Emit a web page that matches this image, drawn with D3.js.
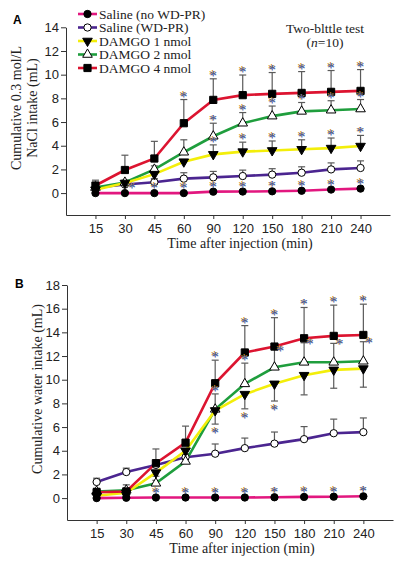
<!DOCTYPE html>
<html>
<head>
<meta charset="utf-8">
<script src="https://cdn.jsdelivr.net/npm/d3@7"></script>
<style>
  body { margin: 0; background: #fff; }
  svg { display: block; font-family: "Liberation Serif", "DejaVu Serif", serif; }
  .tick text { font-size: 13px; fill: #222; }
  .tick line, .domain { stroke: #333; }
</style>
</head>
<body>
<div id="chart"></div>
<script>
// time points (min)
var times = ["15", "30", "45", "60", "90", "120", "150", "180", "210", "240"];
var legendNames = ["Saline (no WD-PR)", "Saline (WD-PR)", "DAMGO 1 nmol", "DAMGO 2 nmol", "DAMGO 4 nmol"];

// panel A: cumulative 0.3 mol/L NaCl intake (mL)
var noWdA   = [0, 0, 0, 0, 0.12, 0.13, 0.15, 0.2, 0.3, 0.38];
var wdA     = [0.45, 0.72, 0.92, 1.22, 1.33, 1.44, 1.56, 1.72, 2.0, 2.12];
var wdErrA  = [0.2, 0.25, 0.3, 0.5, 0.5, 0.5, 0.5, 0.5, 0.55, 0.6];
var dam1A   = [0.28, 0.85, 1.6, 2.65, 3.27, 3.5, 3.6, 3.7, 3.8, 3.97];
var dam1ErrA = [0.15, 0.2, 0.35, 0, 0.8, 0.8, 0.8, 0.8, 0.85, 0.9];
var dam2A   = [0.47, 0.9, 2.0, 3.45, 4.8, 5.9, 6.5, 6.9, 7.0, 7.1];
var dam2ErrA = [0.1, 0.2, 0.3, 1.05, 1.1, 0.9, 0.85, 0.75, 0.8, 0.8];
var dam4A   = [0.64, 1.95, 2.92, 5.9, 7.87, 8.27, 8.38, 8.46, 8.55, 8.63];
var dam4ErrA = [0.45, 1.25, 1.45, 2.0, 1.78, 1.7, 1.8, 1.8, 1.8, 1.8];

// panel B: cumulative water intake (mL)
var noWdB   = [0, 0.03, 0.05, 0.05, 0.05, 0.05, 0.07, 0.1, 0.12, 0.15];
var wdB     = [1.36, 2.2, 2.8, 3.45, 3.75, 4.22, 4.6, 4.98, 5.48, 5.57];
var wdErrB  = [0.32, 0.33, 0.3, 0.3, 0.82, 0.85, 0.98, 1.06, 1.19, 1.2];
var dam1B   = [0.2, 0.45, 2.15, 4.0, 7.4, 8.78, 9.65, 10.38, 10.83, 10.94];
var dam1ErrB = [0.1, 0.15, 0.3, 0.3, 1.15, 1.24, 1.45, 1.66, 1.55, 1.57];
var dam2B   = [0.56, 0.66, 1.25, 3.1, 7.5, 9.65, 11.05, 11.47, 11.47, 11.56];
var dam2ErrB = [0.2, 0.2, 0.25, 0.3, 1.3, 1.75, 1.5, 1.65, 1.6, 1.65];
var dam4B   = [0.5, 0.56, 2.95, 4.68, 9.7, 12.3, 12.8, 13.5, 13.7, 13.78];
var dam4ErrB = [0.34, 0.56, 1.2, 1.4, 1.95, 2.27, 2.44, 2.6, 2.6, 2.6];

// indices of time points marked with *
var starsA = { noWd: [1, 2, 3, 4, 5, 6, 7, 8, 9], dam1: [4, 5, 6, 7, 8, 9], dam2: [4, 5, 6, 7, 8, 9], dam4: [3, 4, 5, 6, 7, 8, 9] };
var starsB = { noWd: [2, 3, 4, 5, 6, 7, 8, 9], dam1: [4, 5, 6], dam2: [4, 5, 6, 7, 8, 9], dam4: [4, 5, 6, 7, 8, 9] };

var svgWidth = 399, svgHeight = 563;

var svg = d3.select("#chart").append("svg")
  .attr("width", svgWidth)
  .attr("height", svgHeight);

var colors = { noWd: "#e2177f", wd: "#4b2590", dam1: "#f3ee0a", dam2: "#1f9e3d", dam4: "#dc1430" };

function marker(type) {
  if (type == "circle") return d3.symbol(d3.symbolCircle, 42)();
  if (type == "square") return d3.symbol(d3.symbolSquare, 52)();
  return d3.symbol(d3.symbolTriangle, 40)();
}
var markerStyle = {
  noWd: { sym: "circle", fill: "#000", rot: 0 },
  wd:   { sym: "circle", fill: "#fff", rot: 0 },
  dam1: { sym: "tri", fill: "#000", rot: 180 },
  dam2: { sym: "tri", fill: "#fff", rot: 0 },
  dam4: { sym: "square", fill: "#000", rot: 0 }
};

function star(g, x, y) {
  // asterisk printed slightly off register: orange under blue
  g.append("text").attr("x", x - 0.7).attr("y", y - 0.7).attr("text-anchor", "middle")
    .attr("font-size", 15).attr("fill", "#d0911c").text("*");
  g.append("text").attr("x", x).attr("y", y).attr("text-anchor", "middle")
    .attr("font-size", 15).attr("fill", "#2f52a6").text("*");
}

function drawPanel(p) {
  var g = svg.append("g");

  var x = d3.scalePoint().domain(times).range(p.xRange).padding(1);
  var y = d3.scaleLinear().domain([-1.85, p.yMax]).range(p.yRange);

  var yTicks = d3.range(0, p.yMax + 1, 2);

  g.append("g")
    .attr("transform", `translate(0, ${p.yRange[0]})`)
    .call(d3.axisBottom(x).tickSize(4).tickPadding(5).tickSizeOuter(0));

  g.append("g")
    .attr("transform", `translate(${p.xRange[0]}, 0)`)
    .call(d3.axisLeft(y).tickValues(yTicks).tickSize(5).tickPadding(2).tickSizeOuter(0));

  var line = d3.line()
    .x((d, i) => x(times[i]))
    .y(d => y(d));

  // error bars
  p.series.forEach(function(s) {
    if (!s.err) return;
    s.vals.forEach(function(v, i) {
      if (!s.err[i]) return;
      var end = s.dir == "down" ? v - s.err[i] : v + s.err[i];
      var cx = x(times[i]);
      g.append("line").attr("x1", cx).attr("x2", cx)
        .attr("y1", y(v)).attr("y2", y(end))
        .attr("stroke", "#5a5a5a").attr("stroke-width", 1.2);
      g.append("line").attr("x1", cx - 3.5).attr("x2", cx + 3.5)
        .attr("y1", y(end)).attr("y2", y(end))
        .attr("stroke", "#5a5a5a").attr("stroke-width", 1.2);
    });
  });

  // lines
  p.series.forEach(function(s) {
    g.append("path").datum(s.vals)
      .attr("d", line)
      .attr("fill", "none")
      .attr("stroke", colors[s.key])
      .attr("stroke-width", 2.6);
  });

  // markers
  p.series.forEach(function(s) {
    var m = markerStyle[s.key];
    g.selectAll(null).data(s.vals).enter().append("path")
      .attr("d", marker(m.sym))
      .attr("transform", (d, i) => `translate(${x(times[i])}, ${y(d)}) rotate(${m.rot})`)
      .attr("fill", m.fill)
      .attr("stroke", "#000")
      .attr("stroke-width", 1);
  });

  // significance stars
  p.series.forEach(function(s) {
    var idx = p.stars[s.key];
    if (!idx) return;
    idx.forEach(function(i) {
      var v = s.vals[i], e = s.err ? s.err[i] : 0;
      var cx = x(times[i]), cy;
      if (s.starMode == "marker") {
        cy = y(v) - 7;
        if (p.starShift && p.starShift[i]) cx += p.starShift[i];
      } else if (s.dir == "down") {
        cy = y(v - e) + 7;
      } else {
        cy = y(v + e) - 5;
        if (s.starRight && s.starRight.indexOf(i) >= 0) { cx += 6; cy += 4; }
      }
      star(g, cx, cy + 7);
    });
  });

  // axis labels
  g.append("text")
    .attr("x", (p.xRange[0] + p.xRange[1]) / 2 + 12)
    .attr("y", p.yRange[0] + 33)
    .attr("text-anchor", "middle")
    .attr("font-size", 14)
    .attr("fill", "#222")
    .text("Time after injection (min)");

  p.yLabel.forEach(function(t, k) {
    g.append("text")
      .attr("transform", `translate(${p.yLabelX[k]}, ${p.yLabelY}) rotate(-90)`)
      .attr("text-anchor", "middle")
      .attr("font-size", 14)
      .attr("fill", "#222")
      .text(t);
  });

  g.append("text")
    .attr("x", p.letterX).attr("y", p.letterY)
    .attr("font-family", "Liberation Sans, Arial, sans-serif")
    .attr("font-weight", "bold")
    .attr("font-size", 12)
    .text(p.letter);

  return { x: x, y: y, g: g };
}

drawPanel({
  letter: "A", letterX: 13, letterY: 24,
  xRange: [66, 390], yRange: [215, 27.3], yMax: 14,
  yLabel: ["Cumulative 0.3 mol/L", "NaCl intake (mL)"], yLabelX: [21, 37], yLabelY: 108,
  stars: starsA, starShift: { 1: 7 },
  series: [
    { key: "wd", vals: wdA, err: wdErrA, dir: "up" },
    { key: "dam2", vals: dam2A, err: dam2ErrA, dir: "up" },
    { key: "dam1", vals: dam1A, err: dam1ErrA, dir: "up" },
    { key: "dam4", vals: dam4A, err: dam4ErrA, dir: "up" },
    { key: "noWd", vals: noWdA, starMode: "marker" }
  ]
});

drawPanel({
  letter: "B", letterX: 15, letterY: 288,
  xRange: [67, 393], yRange: [520, 285], yMax: 18,
  yLabel: ["Cumulative water intake (mL)"], yLabelX: [42], yLabelY: 389,
  stars: starsB,
  series: [
    { key: "wd", vals: wdB, err: wdErrB, dir: "up" },
    { key: "dam2", vals: dam2B, err: dam2ErrB, dir: "up", starRight: [6, 7, 8, 9] },
    { key: "dam1", vals: dam1B, err: dam1ErrB, dir: "down" },
    { key: "dam4", vals: dam4B, err: dam4ErrB, dir: "up" },
    { key: "noWd", vals: noWdB, starMode: "marker" }
  ]
});

// legend (panel A)
var keys = ["noWd", "wd", "dam1", "dam2", "dam4"];
var legend = svg.append("g");
keys.forEach(function(k, i) {
  var ly = 14 + i * 13.5;
  var m = markerStyle[k];
  legend.append("line").attr("x1", 78).attr("x2", 97).attr("y1", ly).attr("y2", ly)
    .attr("stroke", colors[k]).attr("stroke-width", 2.6);
  legend.append("path").attr("d", marker(m.sym))
    .attr("transform", `translate(87.5, ${ly}) rotate(${m.rot})`)
    .attr("fill", m.fill).attr("stroke", "#000");
  legend.append("text").attr("x", 99).attr("y", ly + 4.5)
    .attr("font-size", 13.5).attr("fill", "#222")
    .text(legendNames[i]);
});

var note = svg.append("text").attr("text-anchor", "middle").attr("font-size", 13.5).attr("fill", "#222");
note.append("tspan").attr("x", 325).attr("y", 33).text("Two-blttle test");
var n2 = note.append("tspan").attr("x", 325).attr("y", 47).text("(");
n2.append("tspan").attr("font-style", "italic").text("n");
n2.append("tspan").text("=10)");
</script>
</body>
</html>
